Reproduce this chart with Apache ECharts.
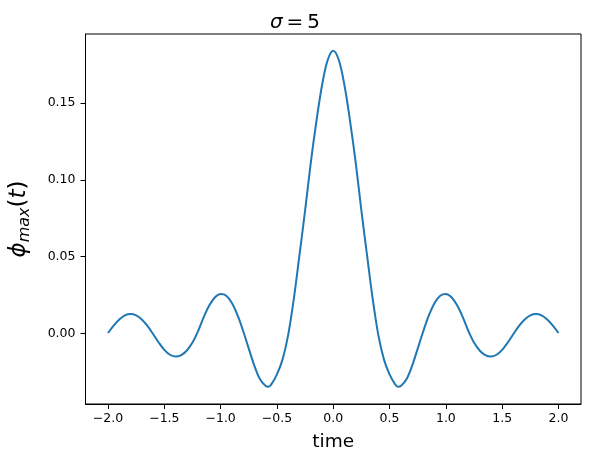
<!DOCTYPE html>
<html>
<head>
<meta charset="utf-8">
<script src="https://cdn.jsdelivr.net/npm/echarts@6/dist/echarts.min.js"></script>
<style>html,body{margin:0;padding:0;background:#fff}#c{width:590px;height:462px}</style>
</head>
<body>
<div id="c"></div>
<script>
const times = [-2.00,-1.95,-1.90,-1.85,-1.80,-1.75,-1.70,-1.65,-1.60,-1.55,-1.50,-1.45,-1.40,-1.35,-1.30,-1.25,-1.20,-1.15,-1.10,-1.05,-1.00,-0.95,-0.90,-0.85,-0.80,-0.75,-0.70,-0.65,-0.60,-0.575,-0.55,-0.50,-0.45,-0.40,-0.35,-0.30,-0.25,-0.20,-0.15,-0.10,-0.05,0.00,0.05,0.10,0.15,0.20,0.25,0.30,0.35,0.40,0.45,0.50,0.55,0.575,0.60,0.65,0.70,0.75,0.80,0.85,0.90,0.95,1.00,1.05,1.10,1.15,1.20,1.25,1.30,1.35,1.40,1.45,1.50,1.55,1.60,1.65,1.70,1.75,1.80,1.85,1.90,1.95,2.00];
const phiMax = [0.0002,0.0050,0.0090,0.0117,0.0126,0.0117,0.0090,0.0048,-0.0005,-0.0060,-0.0108,-0.0140,-0.0152,-0.0143,-0.0112,-0.0060,0.0015,0.0105,0.0182,0.0235,0.0256,0.0245,0.0198,0.0118,0.0015,-0.0100,-0.0212,-0.0300,-0.0344,-0.0348,-0.0333,-0.0268,-0.0170,-0.0010,0.0225,0.0510,0.0800,0.1110,0.1380,0.1615,0.1780,0.1842,0.1780,0.1615,0.1380,0.1110,0.0800,0.0510,0.0225,-0.0010,-0.0170,-0.0268,-0.0333,-0.0348,-0.0344,-0.0300,-0.0212,-0.0100,0.0015,0.0118,0.0198,0.0245,0.0256,0.0235,0.0182,0.0105,0.0015,-0.0060,-0.0112,-0.0143,-0.0152,-0.0140,-0.0108,-0.0060,-0.0005,0.0048,0.0090,0.0117,0.0126,0.0117,0.0090,0.0050,0.0002];
const xTicks = [-2.0,-1.5,-1.0,-0.5,0.0,0.5,1.0,1.5,2.0];
const yTicks = [0.00,0.05,0.10,0.15];

const chart = echarts.init(document.getElementById('c'), null, {renderer:'canvas'});
const font = 'DejaVu Sans';
const fmtX = v => (v < 0 ? '\u2212' : '') + Math.abs(v).toFixed(1);
const fmtY = v => (v < 0 ? '\u2212' : '') + Math.abs(v).toFixed(2);
chart.setOption({
  animation:false,
  backgroundColor:'#fff',
  title:{
    text:'{i|σ}\u2009=\u20095',
    left:'center', top:8,
    textStyle:{fontFamily:font,fontSize:20,fontWeight:'normal',color:'#000',
      rich:{i:{fontFamily:font,fontSize:20,fontStyle:'italic',color:'#000'}}}
  },
  grid:{left:84,right:9,top:34,bottom:58,show:true,borderColor:'#000',borderWidth:1,backgroundColor:'transparent'},
  xAxis:{
    type:'value', min:-2.2, max:2.2,
    name:'time', nameLocation:'middle', nameGap:29,
    nameTextStyle:{fontFamily:font,fontSize:18.5,color:'#000'},
    axisLine:{show:true,onZero:false,lineStyle:{color:'#000',width:1}},
    axisTick:{show:true,length:5,lineStyle:{color:'#000',width:1},customValues:xTicks},
    axisLabel:{fontFamily:font,fontSize:12.5,color:'#000',margin:8,customValues:xTicks,formatter:fmtX},
    splitLine:{show:false}
  },
  yAxis:{
    type:'value', min:-0.0461, max:0.1951,
    name:'{p|ϕ}{s|max}{n|(}{p|t}{n|)}', nameLocation:'middle', nameGap:53, nameRotate:90,
    nameTextStyle:{fontFamily:font,fontSize:22,color:'#000',
      rich:{
        p:{fontFamily:font,fontSize:23,fontStyle:'italic',color:'#000'},
        n:{fontFamily:font,fontSize:23,color:'#000'},
        s:{fontFamily:font,fontSize:16,fontStyle:'italic',color:'#000',verticalAlign:'bottom',padding:[10,0,0,0]}
      }},
    axisLine:{show:true,onZero:false,lineStyle:{color:'#000',width:1}},
    axisTick:{show:true,length:5,lineStyle:{color:'#000',width:1},customValues:yTicks},
    axisLabel:{fontFamily:font,fontSize:12.5,color:'#000',margin:10,customValues:yTicks,formatter:fmtY},
    splitLine:{show:false}
  },
  series:[{
    type:'line',
    data:times.map((t,i)=>[t,phiMax[i]]),
    smooth:0.35,
    showSymbol:false,
    lineStyle:{color:'#1f77b4',width:2},
    itemStyle:{color:'#1f77b4'}
  }]
});
</script>
</body>
</html>
